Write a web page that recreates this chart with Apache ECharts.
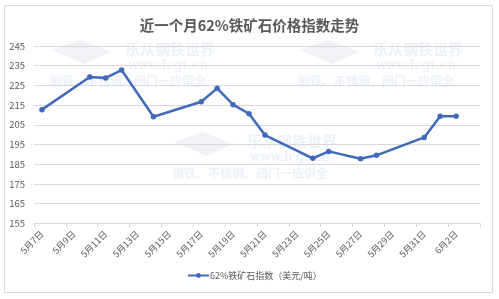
<!DOCTYPE html>
<html><head><meta charset="utf-8">
<script src="https://cdn.jsdelivr.net/npm/echarts@6/dist/echarts.min.js"></script>
<style>html,body{margin:0;padding:0;background:#fff}#c{width:499px;height:299px}</style>
</head><body><div id="c"></div>
<script>
// categories: every day of the date axis (5/7 .. 6/3)
const days = ['5月7日','5月8日','5月9日','5月10日','5月11日','5月12日','5月13日','5月14日','5月15日','5月16日','5月17日','5月18日','5月19日','5月20日','5月21日','5月22日','5月23日','5月24日','5月25日','5月26日','5月27日','5月28日','5月29日','5月30日','5月31日','6月1日','6月2日','6月3日'];
// observed dates and values
const obsDates = ['5月7日','5月10日','5月11日','5月12日','5月14日','5月17日','5月18日','5月19日','5月20日','5月21日','5月24日','5月25日','5月27日','5月28日','5月31日','6月1日','6月2日'];
const obsValues = [212.7,229.3,228.8,232.8,209.1,216.7,223.5,215.2,210.6,199.8,188.0,191.5,187.8,189.5,198.6,209.3,209.3];
const seriesName = '62%铁矿石指数（美元/吨）';
const titleText = '近一个月62%铁矿石价格指数走势';

const data = days.map(d => { const i = obsDates.indexOf(d); return i >= 0 ? obsValues[i] : null; });
const FONT = '"Noto Sans CJK SC", "Noto Sans", sans-serif';
const wmColor = 'rgba(195,210,235,0.32)';
function wm(x,y){
  return [
    {type:'polygon',shape:{points:[[x+2,y+8],[x+30,y-2],[x+62,y+10],[x+34,y+22]]},style:{fill:'rgba(205,212,225,0.3)'},z:0},
    {type:'text',left:x+75,top:y,style:{text:'乐从钢铁世界',fill:wmColor,font:'bold 15px '+FONT},z:0},
    {type:'text',left:x+78,top:y+18,style:{text:'www.lcgt.cn',fill:wmColor,font:'bold 12px "DejaVu Serif", serif'},z:0},
    {type:'text',left:x,top:y+33,style:{text:'钢铁、不锈钢、阀门一应俱全',fill:wmColor,font:'bold 12px '+FONT},z:0}
  ];
}
const chart = echarts.init(document.getElementById('c'));
chart.setOption({
  animation:false,
  backgroundColor:'#fff',
  graphic:[
    {type:'rect',shape:{x:4.5,y:5.5,width:488,height:287},style:{fill:'none',stroke:'#d9d9d9',lineWidth:1},z:0}
  ].concat(wm(50,42), wm(298,42), wm(172,134)),
  title:{text:titleText,left:'center',top:13,textStyle:{fontFamily:FONT,fontSize:14.5,fontWeight:'bold',color:'#595959'}},
  legend:{bottom:14,left:182,itemWidth:21,itemHeight:6,itemGap:0,
    textStyle:{fontFamily:FONT,fontSize:9,color:'#595959',padding:[0,0,0,-4]},data:[seriesName]},
  grid:{left:34,right:19,top:46,bottom:75.7},
  xAxis:{type:'category',data:days,boundaryGap:true,
    axisLine:{show:true,lineStyle:{color:'#d9d9d9'}},
    axisTick:{show:true,length:4,interval:1,lineStyle:{color:'#d9d9d9'}},
    splitLine:{show:false},
    axisLabel:{interval:1,rotate:45,margin:9,fontFamily:FONT,fontSize:9,color:'#595959'}},
  yAxis:{type:'value',min:155,max:245,interval:10,
    axisLine:{show:false},axisTick:{show:false},
    splitLine:{lineStyle:{color:'#d9d9d9'}},
    axisLabel:{fontFamily:FONT,fontSize:9.5,color:'#595959',margin:9}},
  series:[{name:seriesName,type:'line',data:data,connectNulls:true,symbol:'circle',symbolSize:5.5,
    lineStyle:{color:'#4169BA',width:2.5},itemStyle:{color:'#4169BA'}}]
});
</script></body></html>
